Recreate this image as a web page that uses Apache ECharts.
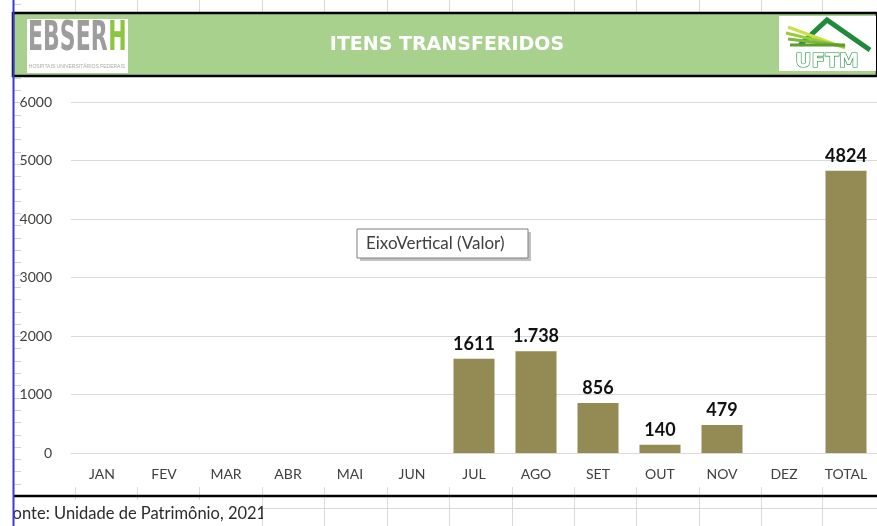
<!DOCTYPE html>
<html><head><meta charset="utf-8">
<script src="https://cdn.jsdelivr.net/npm/echarts@6/dist/echarts.min.js"></script>
<style>html,body{margin:0;padding:0;background:#fff}#c{width:877px;height:526px}</style>
</head><body><div id="c"></div>
<script>
var categories = ['JAN','FEV','MAR','ABR','MAI','JUN','JUL','AGO','SET','OUT','NOV','DEZ','TOTAL'];
var values = [null,null,null,null,null,null,1611,1738,856,140,479,null,4824];
var valueLabels = ['','','','','','','1611','1.738','856','140','479','','4824'];
var yTicks = [0,1000,2000,3000,4000,5000,6000];
var title = 'ITENS TRANSFERIDOS';
var source = 'Fonte: Unidade de Patrimônio, 2021';

var FONT = 'Lato, "Liberation Sans", sans-serif';
var chart = echarts.init(document.getElementById('c'));

var g = [];
var cols = [75,137,199,262,324,387,449,512,574,636,699,761,822];
cols.forEach(function(x){
  g.push({type:'line',shape:{x1:x+0.5,y1:0,x2:x+0.5,y2:12},style:{stroke:'#d9d9d9',lineWidth:1},z:1});
  g.push({type:'line',shape:{x1:x+0.5,y1:487,x2:x+0.5,y2:526},style:{stroke:'#d9d9d9',lineWidth:1},z:1});
});
g.push({type:'line',shape:{x1:263,y1:508.5,x2:877,y2:508.5},style:{stroke:'#d9d9d9',lineWidth:1},z:7});
for (var yy = 4; yy < 526; yy += 12.3) {
  g.push({type:'line',shape:{x1:13,y1:Math.round(yy)+0.5,x2:21,y2:Math.round(yy)+0.5},style:{stroke:'#d0d0d0',lineWidth:1},z:1});
}
// header band
g.push({type:'rect',shape:{x:13,y:13,width:864,height:63},style:{fill:'#a9d18e',stroke:'#000',lineWidth:2.5},z:5});
g.push({type:'text',style:{text:title,x:447,y:45,fill:'#fff',font:'bold 19px "DejaVu Sans", sans-serif',textAlign:'center',textVerticalAlign:'middle'},z:6});
// EBSERH logo
g.push({type:'rect',shape:{x:27,y:19,width:101,height:54},style:{fill:'#fff'},z:6});
g.push({type:'group',x:28,y:40,scaleX:0.55,scaleY:1,z:7,children:[
  {type:'text',style:{text:'EBSER',x:0,y:0,fill:'#9d9d9d',font:'bold 40px "DejaVu Sans", sans-serif',textVerticalAlign:'middle'},z:7},
  {type:'text',style:{text:'H',x:146,y:0,fill:'#8cc63e',font:'bold 40px "DejaVu Sans", sans-serif',textVerticalAlign:'middle'},z:7}
]});
g.push({type:'text',style:{text:'HOSPITAIS UNIVERSITÁRIOS FEDERAIS',x:77,y:67,fill:'#aaa',font:'5px sans-serif',textAlign:'center',textVerticalAlign:'middle'},z:7});
// UFTM logo
g.push({type:'rect',shape:{x:779,y:16,width:97,height:55},style:{fill:'#fff'},z:6});
g.push({type:'polyline',shape:{points:[[800,45],[827,20],[870,50]]},style:{stroke:'#1f8a3a',lineWidth:5,fill:null},z:7});
[[788,27],[786,33],[788,39],[790,45]].forEach(function(p,i){
  g.push({type:'line',shape:{x1:p[0],y1:p[1],x2:845,y2:48-i},style:{stroke:['#c8e04a','#9bcb3c','#7ab83a','#5a9e2e'][i],lineWidth:3},z:8});
});
g.push({type:'text',style:{text:'UFTM',x:827,y:62,fill:'#fff',stroke:'#1f8a3a',lineWidth:1.2,font:'bold 20px "DejaVu Sans", sans-serif',textAlign:'center',textVerticalAlign:'middle'},z:7});
// bottom black line and source
g.push({type:'line',shape:{x1:13,y1:496,x2:877,y2:496},style:{stroke:'#000',lineWidth:2.5},z:5});
g.push({type:'rect',shape:{x:14,y:500,width:248,height:26},style:{fill:'#fff'},z:2});
g.push({type:'text',style:{text:source,x:4,y:514,fill:'#2b2b2b',font:'16.5px '+FONT,textVerticalAlign:'middle'},z:5});
g.push({type:'rect',shape:{x:0,y:497,width:13,height:29},style:{fill:'#fff'},z:6});
g.push({type:'rect',shape:{x:263,y:500,width:70,height:26},style:{fill:'#fff'},z:6});
g.push({type:'line',shape:{x1:324.5,y1:500,x2:324.5,y2:526},style:{stroke:'#d9d9d9',lineWidth:1},z:7});
g.push({type:'line',shape:{x1:13.5,y1:0,x2:13.5,y2:526},style:{stroke:'#3a3ad6',lineWidth:2},z:10});
// EixoVertical box
g.push({type:'rect',shape:{x:360,y:232,width:171,height:29},style:{fill:'#9a9a9a',opacity:0.6},z:11});
g.push({type:'rect',shape:{x:357,y:229,width:171,height:29},style:{fill:'#fff',stroke:'#7f7f7f',lineWidth:1},z:12});
g.push({type:'text',style:{text:'EixoVertical (Valor)',x:366,y:244,fill:'#404040',font:'17px '+FONT,textVerticalAlign:'middle'},z:13});

chart.setOption({
  animation:false,
  grid:{left:71,right:0,top:102,bottom:73},
  xAxis:{type:'category',data:categories,
    axisLine:{lineStyle:{color:'#d9d9d9'}},axisTick:{show:false},
    axisLabel:{color:'#404040',fontSize:14,fontFamily:FONT,margin:14}},
  yAxis:{type:'value',min:yTicks[0],max:yTicks[yTicks.length-1],interval:1000,
    axisLine:{show:false},axisTick:{show:false},
    splitLine:{lineStyle:{color:'#d9d9d9'}},
    axisLabel:{color:'#404040',fontSize:14,fontFamily:FONT,margin:19,formatter:function(v){return String(v);}}},
  series:[{type:'bar',data:values,barWidth:41,
    itemStyle:{color:'#948a54'},
    label:{show:true,position:'top',distance:6,color:'#111',fontSize:18,fontWeight:'bold',fontFamily:FONT,
      formatter:function(p){return valueLabels[p.dataIndex];}}}],
  graphic:g
});
</script></body></html>
